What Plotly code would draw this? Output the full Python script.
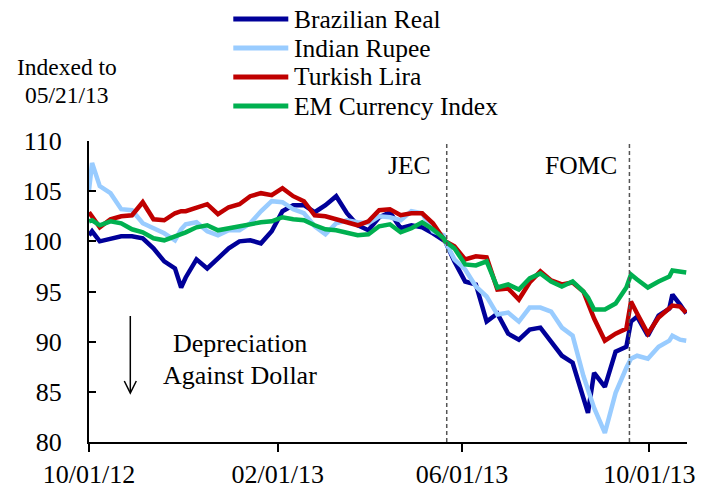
import plotly.graph_objects as go

dates = [
    "2012-10-01", "2012-10-03", "2012-10-08", "2012-10-15", "2012-10-22", "2012-10-29",
    "2012-11-05", "2012-11-12", "2012-11-19", "2012-11-26", "2012-11-30", "2012-12-03",
    "2012-12-10", "2012-12-17", "2012-12-24", "2012-12-31", "2013-01-07", "2013-01-14",
    "2013-01-21", "2013-01-28", "2013-02-04", "2013-02-11", "2013-02-18", "2013-02-25",
    "2013-03-04", "2013-03-11", "2013-03-18", "2013-03-25", "2013-04-01", "2013-04-08",
    "2013-04-15", "2013-04-22", "2013-04-29", "2013-05-06", "2013-05-13", "2013-05-20",
    "2013-05-21", "2013-05-27", "2013-06-03", "2013-06-10", "2013-06-17", "2013-06-24",
    "2013-07-01", "2013-07-08", "2013-07-15", "2013-07-22", "2013-07-29", "2013-08-05",
    "2013-08-12", "2013-08-19", "2013-08-22", "2013-08-26", "2013-09-02", "2013-09-09",
    "2013-09-16", "2013-09-19", "2013-09-23", "2013-09-30", "2013-10-07", "2013-10-14",
    "2013-10-16", "2013-10-21", "2013-10-25",
]

brazilian_real = [
    100.6, 101.0, 100.0, 100.2, 100.5, 100.5, 100.3, 99.3, 98.0, 97.3, 95.4, 96.4,
    98.2, 97.3, 98.3, 99.3, 100.0, 100.1, 99.8, 101.0, 103.0, 103.6, 103.6, 102.9,
    103.6, 104.5, 102.8, 101.6, 101.1, 102.4, 102.9, 101.3, 101.6, 101.4, 100.8, 100.2,
    100.0, 98.0, 96.0, 95.7, 92.0, 92.8, 90.8, 90.2, 91.2, 91.4, 90.0, 88.6,
    87.9, 84.6, 82.9, 86.9, 85.5, 89.0, 89.5, 92.0, 92.5, 90.6, 92.6, 93.3,
    94.7, 93.7, 92.8,
]
indian_rupee = [
    105.1, 107.8, 105.5, 104.8, 103.2, 103.1, 101.8, 101.3, 100.8, 100.1, 101.2, 101.7,
    101.9, 101.0, 100.6, 101.1, 101.1, 101.8, 103.0, 104.0, 103.9, 103.2, 102.8, 101.5,
    100.7, 101.8, 102.1, 101.9, 101.8, 102.5, 102.4, 102.1, 103.0, 102.8, 101.0, 100.6,
    100.0, 98.2, 97.2, 95.5, 94.5, 92.7, 92.9, 92.0, 93.4, 93.4, 93.0, 91.4,
    90.6, 86.6, 85.3, 83.4, 80.9, 84.9, 87.4, 88.3, 88.6, 88.3, 89.5, 90.1,
    90.6, 90.2, 90.1,
]
turkish_lira = [
    102.9, 102.5, 101.4, 102.2, 102.5, 102.6, 103.9, 102.2, 102.1, 102.8, 103.0, 103.0,
    103.4, 103.7, 102.7, 103.4, 103.7, 104.5, 104.8, 104.6, 105.3, 104.5, 104.0, 102.6,
    102.5, 102.2, 101.8, 101.6, 102.0, 103.1, 103.2, 102.6, 102.8, 102.8, 101.8, 100.3,
    100.0, 99.5, 98.2, 98.5, 98.4, 95.2, 95.3, 94.2, 95.9, 97.0, 96.1, 95.7,
    95.9, 95.0, 93.9, 92.3, 90.1, 90.8, 91.3, 94.0, 92.8, 90.8, 92.4, 93.3,
    93.6, 93.5, 92.9,
]
em_index = [
    102.0, 102.1, 101.6, 102.0, 101.8, 101.2, 100.9, 100.3, 100.1, 100.5, 100.7, 100.9,
    101.4, 101.6, 101.1, 101.3, 101.5, 101.8, 101.9, 102.0, 102.4, 102.2, 102.1, 101.6,
    101.2, 101.1, 100.9, 100.6, 100.7, 101.5, 101.7, 100.9, 101.3, 101.9, 101.2, 100.3,
    100.0, 99.3, 97.7, 97.6, 98.0, 95.4, 95.7, 95.2, 96.3, 96.8, 96.0, 95.5,
    96.0, 95.0, 94.4, 93.2, 93.2, 93.8, 95.4, 96.7, 96.2, 95.4, 96.0, 96.5,
    97.1, 97.0, 96.9,
]

series_names = ["Brazilian Real", "Indian Rupee", "Turkish Lira", "EM Currency Index"]
series_values = [brazilian_real, indian_rupee, turkish_lira, em_index]
series_colors = ["#000099", "#99CCFF", "#C00000", "#00B050"]

tick_dates = ["2012-10-01", "2013-02-01", "2013-06-01", "2013-10-01"]
event_dates = ["2013-05-22", "2013-09-18"]
event_labels = ["JEC", "FOMC"]

FONT = "Liberation Serif, Times New Roman, Times, serif"
FS_TICK = 26
FS_LEG = 25.5
FS_TXT = 25.5

# the page body adds an 8px offset; the figure is sized to fit the window
OFF = 8
W, H = 715 - OFF, 489 - OFF
L, R, T, B = 88.7 - OFF, 28.3, 141 - OFF, 47
PW, PH = W - L - R, H - T - B


def px(x):
    return (x - OFF - L) / PW


def py(y):
    return (H - B - (y - OFF)) / PH


fig = go.Figure()
for name, vals, col in zip(series_names, series_values, series_colors):
    fig.add_trace(go.Scatter(x=dates, y=vals, mode="lines", name=name,
                             line=dict(color=col, width=4.5), showlegend=False))

shapes = []
annotations = []
for d in event_dates:
    shapes.append(dict(type="line", xref="x", yref="paper", x0=d, x1=d, y0=0, y1=1,
                       line=dict(color="#555555", width=1.5, dash="4px,3px")))
for lab, xr in zip(event_labels, [433, 619]):
    annotations.append(dict(text=lab, xref="paper", yref="paper", x=px(xr), y=py(165),
                            xanchor="right", yanchor="middle", showarrow=False,
                            font=dict(family=FONT, size=FS_TXT, color="black")))

# custom legend
for i, (name, col) in enumerate(zip(series_names, series_colors)):
    yy = 19 + 29 * i
    shapes.append(dict(type="line", xref="paper", yref="paper", x0=px(233), x1=px(288),
                       y0=py(yy), y1=py(yy), line=dict(color=col, width=5)))
    annotations.append(dict(text=name, xref="paper", yref="paper", x=px(292), y=py(yy),
                            xanchor="left", yanchor="middle", showarrow=False,
                            font=dict(family=FONT, size=FS_LEG, color="black")))

for txt, yy in [("Indexed to", 67), ("05/21/13", 95)]:
    annotations.append(dict(text=txt, xref="paper", yref="paper", x=px(67), y=py(yy),
                            xanchor="center", yanchor="middle", showarrow=False,
                            font=dict(family=FONT, size=23.5, color="black")))

for txt, yy in [("Depreciation", 343), ("Against Dollar", 375)]:
    annotations.append(dict(text=txt, xref="paper", yref="paper", x=px(240), y=py(yy),
                            xanchor="center", yanchor="middle", showarrow=False,
                            font=dict(family=FONT, size=26, color="black")))

# down arrow
shapes.append(dict(type="line", xref="paper", yref="paper", x0=px(130), x1=px(130),
                   y0=py(316), y1=py(392), line=dict(color="black", width=1.5)))
shapes.append(dict(type="path", xref="paper", yref="paper",
                   path=f"M {px(124)},{py(381)} L {px(130)},{py(393)} L {px(136)},{py(381)}",
                   line=dict(color="black", width=1.5)))

fig.update_layout(
    width=W, height=H,
    margin=dict(l=L, r=R, t=T, b=B, autoexpand=False),
    paper_bgcolor="white", plot_bgcolor="white",
    font=dict(family=FONT, size=FS_TICK, color="black"),
    shapes=shapes, annotations=annotations,
    xaxis=dict(type="date", range=["2012-10-01", "2013-10-25 12:00"],
               tickvals=tick_dates, tickformat="%m/%d/%y",
               ticks="outside", ticklen=8, tickwidth=2, tickcolor="black",
               showline=True, linecolor="black", linewidth=2,
               showgrid=False, zeroline=False, automargin=False,
               tickfont=dict(family=FONT, size=FS_TICK)),
    yaxis=dict(range=[80, 110], dtick=5, tick0=80,
               ticks="inside", ticklen=7, tickwidth=2, tickcolor="black",
               showline=True, linecolor="black", linewidth=2,
               showgrid=False, zeroline=False, automargin=False,
               ticklabelstandoff=20,
               tickfont=dict(family=FONT, size=FS_TICK)),
)

fig.write_html("out.html")
